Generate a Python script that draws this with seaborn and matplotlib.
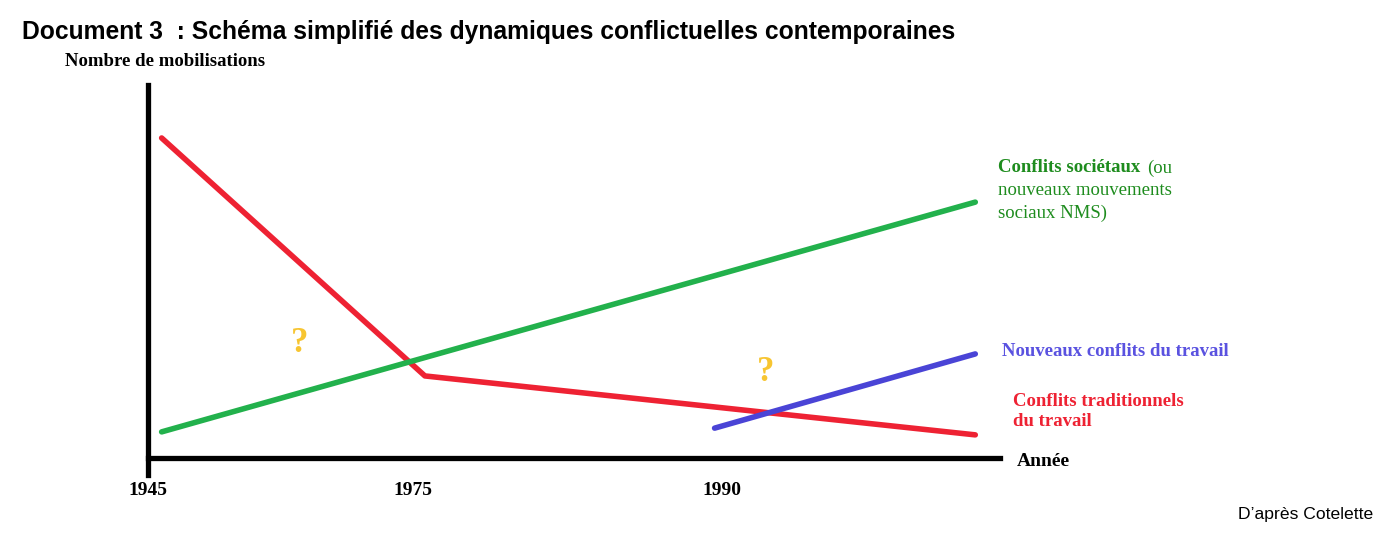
import pandas as pd
import matplotlib.pyplot as plt
import seaborn as sns

# schematic values (position on the time axis, mobilisation index 0-100)
trad_x = [1.6, 32.5, 97.1]
trad_y = [85.8, 22.0, 6.2]
soc_x = [1.6, 97.1]
soc_y = [7.0, 68.6]
new_x = [66.5, 97.1]
new_y = [8.0, 27.9]

tick_pos = [0, 31.1, 67.4]
tick_labels = ["1945", "1975", "1990"]

red = "#ee2233"
green = "#22b14c"
blue = "#4a44d6"
gold = "#f7c531"

sns.set_theme(style="white")
plt.rcParams['font.family'] = ['Liberation Serif', 'DejaVu Serif']
plt.rcParams['text.color'] = 'black'
plt.rcParams['xtick.color'] = 'black'

df = pd.concat([
    pd.DataFrame({"x": trad_x, "y": trad_y, "serie": "trad"}),
    pd.DataFrame({"x": soc_x, "y": soc_y, "serie": "soc"}),
    pd.DataFrame({"x": new_x, "y": new_y, "serie": "new"}),
])

fig = plt.figure(figsize=(13.95, 5.33), dpi=100)
ax = fig.add_axes([148 / 1395, (533 - 475) / 533, 852 / 1395, (475 - 85) / 533])

sns.lineplot(data=df, x="x", y="y", hue="serie", sort=False,
             palette={"trad": red, "soc": green, "new": blue},
             linewidth=4, legend=False, ax=ax)
for line in ax.lines:
    line.set_solid_capstyle("round")

ax.set_xlim(0, 100)
ax.set_ylim(-4.56, 100)
ax.spines["top"].set_visible(False)
ax.spines["right"].set_visible(False)
ax.spines["bottom"].set_position(("data", 0))
for s in ["left", "bottom"]:
    ax.spines[s].set_linewidth(3.8)
    ax.spines[s].set_color("black")
ax.set_yticks([])
ax.set_xticks(tick_pos)
ax.set_xticklabels(tick_labels, fontweight="bold", fontsize=14, color="black")
ax.tick_params(axis="x", length=0, pad=17)
ax.set_xlabel("")
ax.set_ylabel("")

# question marks
ax.text(17.8, 30.8, "?", color=gold, fontsize=25, fontweight="bold", ha="center", va="center")
ax.text(72.5, 22.8, "?", color=gold, fontsize=25, fontweight="bold", ha="center", va="center")

# series labels
dark_green = "#1e8c1e"
fig.text(998 / 1395, 1 - 168 / 533, "Conflits sociétaux", color=dark_green,
         fontsize=13.5, fontweight="bold", va="center")
fig.text(1147 / 1395, 1 - 168 / 533, "(ou", color=dark_green, fontsize=13.5, va="center")
fig.text(998 / 1395, 1 - 190 / 533, "nouveaux mouvements", color=dark_green, fontsize=13.5, va="center")
fig.text(998 / 1395, 1 - 213 / 533, "sociaux NMS)", color=dark_green, fontsize=13.5, va="center")
fig.text(1002 / 1395, 1 - 351 / 533, "Nouveaux conflits du travail", color="#5a52e0",
         fontsize=13.5, fontweight="bold", va="center")
fig.text(1013 / 1395, 1 - 401 / 533, "Conflits traditionnels", color=red,
         fontsize=13.5, fontweight="bold", va="center")
fig.text(1013 / 1395, 1 - 422 / 533, "du travail", color=red,
         fontsize=13.5, fontweight="bold", va="center")
fig.text(1017 / 1395, 1 - 462 / 533, "Année", color="black",
         fontsize=14, fontweight="bold", va="center")

fig.text(65 / 1395, 1 - 62 / 533, "Nombre de mobilisations", color="black",
         fontsize=13.5, fontweight="bold", va="center")

fig.text(22 / 1395, 1 - 32 / 533, "Document 3  : Schéma simplifié des dynamiques conflictuelles contemporaines",
         family=["Liberation Sans", "DejaVu Sans"], fontsize=17.7, fontweight="bold",
         color="black", va="center")
fig.text(1373 / 1395, 1 - 515 / 533, "D’après Cotelette",
         family=["Liberation Sans", "DejaVu Sans"], fontsize=12.6, ha="right", va="center",
         color="black")

fig.savefig("out.png", dpi=100)
